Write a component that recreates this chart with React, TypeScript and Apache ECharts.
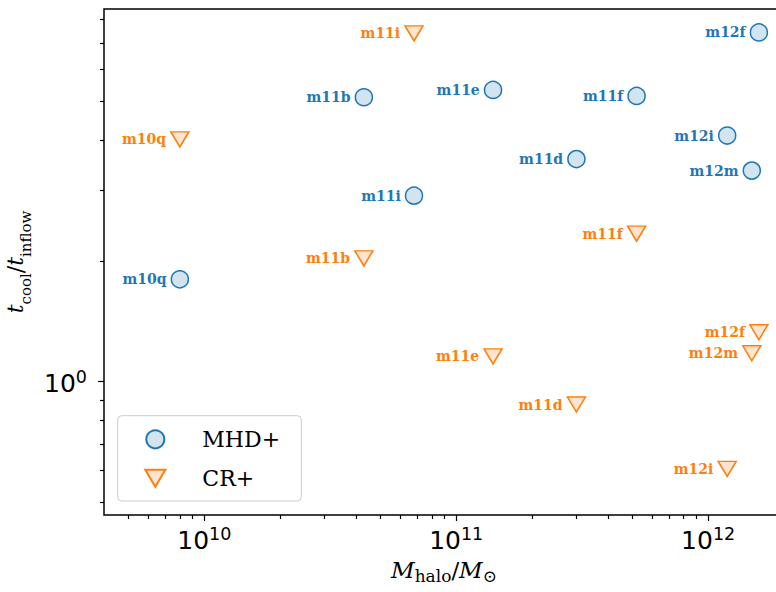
import React, { useEffect, useRef } from "react";
import * as echarts from "echarts";

// Halo names and masses (M_sun), shared by both physics runs
const haloNames = ["m10q", "m11b", "m11i", "m11e", "m11d", "m11f", "m12i", "m12m", "m12f"];
const haloMass = [8.0e9, 4.3e10, 6.8e10, 1.4e11, 3.0e11, 5.2e11, 1.19e12, 1.49e12, 1.59e12];

// t_cool / t_inflow for each run
const mhdRatio = [1.8, 5.12, 2.91, 5.34, 3.59, 5.16, 4.11, 3.36, 7.43];
const crRatio = [4.02, 2.03, 7.39, 1.156, 0.877, 2.34, 0.606, 1.177, 1.328];

// Tick positions
const xMajorTicks = [1e10, 1e11, 1e12];
const xMinorTicks = [
  5e9, 6e9, 7e9, 8e9, 9e9,
  2e10, 3e10, 4e10, 5e10, 6e10, 7e10, 8e10, 9e10,
  2e11, 3e11, 4e11, 5e11, 6e11, 7e11, 8e11, 9e11,
];
const yMajorTicks = [1];
const yMinorTicks = [0.5, 0.6, 0.7, 0.8, 0.9, 2, 3, 4, 5, 6, 7, 8];

const BLUE = "#1f77b4";
const BLUE_FILL = "#d2e4f0";
const ORANGE = "#ff7f0e";
const ORANGE_FILL = "#ffe5cf";
const TRIANGLE_DOWN = "path://M0,0L20,0L10,17Z";

const SERIF = "DejaVu Serif";

const powLabel = (v: number) => `{b|10}{s|${Math.round(Math.log10(v))}}`;
const powRich = {
  b: { fontFamily: "DejaVu Sans", fontSize: 25, lineHeight: 28, verticalAlign: "bottom", color: "#000" },
  s: { fontFamily: "DejaVu Sans", fontSize: 17.5, lineHeight: 17, verticalAlign: "top", color: "#000" },
};

// Math-style axis titles: italic symbols with upright subscripts
const mathRich = (main: number, sub: number, drop: number) => ({
  mi: { fontFamily: SERIF, fontStyle: "italic", fontSize: main, lineHeight: main + 2, verticalAlign: "top", color: "#000" },
  rm: { fontFamily: SERIF, fontSize: main, lineHeight: main + 2, verticalAlign: "top", color: "#000" },
  sub: { fontFamily: SERIF, fontSize: sub, lineHeight: sub, padding: [drop, 0, 0, 0], verticalAlign: "top", color: "#000" },
});

const X_MIN = 4e9;
const X_MAX = 2e12;
const Y_MIN = 0.465;
const Y_MAX = 8.5;

const tickStyle = { color: "#000", width: 1.2 };

export default function App() {
  const ref = useRef<HTMLDivElement>(null);

  useEffect(() => {
    if (!ref.current) return;
    const chart = echarts.init(ref.current, null, { renderer: "svg" });

    const pointLabel = (color: string) => ({
      show: true,
      position: "left",
      distance: 4,
      formatter: "{b}",
      color,
      fontFamily: SERIF,
      fontWeight: "bold",
      fontSize: 14,
    });

    chart.setOption({
      animation: false,
      backgroundColor: "#fff",
      grid: {
        left: 104,
        top: 9,
        width: 680,
        height: 506,
        outerBoundsMode: "none",
        containLabel: false,
        show: true,
        borderColor: "#000",
        borderWidth: 1.5,
        backgroundColor: "transparent",
      },
      xAxis: [
        {
          type: "log",
          logBase: 10,
          min: X_MIN,
          max: X_MAX,
          axisLine: { show: false },
          splitLine: { show: false },
          axisTick: { customValues: xMajorTicks, length: 6, lineStyle: tickStyle },
          axisLabel: { customValues: xMajorTicks, formatter: powLabel, rich: powRich, margin: 10 },
          name: "{mi|M}{sub|halo}{rm|/}{mi|M}{sub|⊙}",
          nameLocation: "middle",
          nameGap: 43,
          nameTextStyle: { rich: mathRich(23, 17, 9) },
        },
        {
          type: "log",
          logBase: 10,
          min: X_MIN,
          max: X_MAX,
          position: "bottom",
          axisLine: { show: false },
          splitLine: { show: false },
          axisTick: { customValues: xMinorTicks, length: 4, lineStyle: tickStyle },
          axisLabel: { show: false },
        },
      ],
      yAxis: [
        {
          type: "log",
          logBase: 10,
          min: Y_MIN,
          max: Y_MAX,
          position: "left",
          axisLine: { show: false },
          splitLine: { show: false },
          axisTick: { customValues: yMajorTicks, length: 6, lineStyle: tickStyle },
          axisLabel: { customValues: yMajorTicks, formatter: powLabel, rich: powRich, margin: 17 },
          name: "{mi|t}{sub|cool}{rm|/}{mi|t}{sub|inflow}",
          nameLocation: "middle",
          nameRotate: 90,
          nameGap: 57,
          nameTextStyle: { rich: mathRich(22, 15, 14) },
        },
        {
          type: "log",
          logBase: 10,
          min: Y_MIN,
          max: Y_MAX,
          position: "left",
          offset: 0,
          axisLine: { show: false },
          splitLine: { show: false },
          axisTick: { customValues: yMinorTicks, length: 4, lineStyle: tickStyle },
          axisLabel: { show: false },
        },
      ],
      legend: {
        orient: "vertical",
        left: 117.7,
        top: 415.7,
        padding: [11.6, 13, 10.7, 26.6],
        itemWidth: 20,
        itemHeight: 18,
        itemGap: 15,
        selectedMode: false,
        backgroundColor: "rgba(255,255,255,0.8)",
        borderColor: "#cccccc",
        borderWidth: 1,
        borderRadius: 4,
        textStyle: {
          fontFamily: SERIF,
          fontSize: 22,
          lineHeight: 24,
          color: "#000",
          width: 86,
          padding: [0, 0, 0, 32],
        },
        data: [
          { name: "MHD+", icon: "circle" },
          { name: "CR+", icon: TRIANGLE_DOWN },
        ],
      },
      series: [
        {
          name: "MHD+",
          type: "scatter",
          xAxisIndex: 0,
          yAxisIndex: 0,
          symbol: "circle",
          symbolSize: 17,
          itemStyle: { color: BLUE_FILL, borderColor: BLUE, borderWidth: 1.5, opacity: 1 },
          label: pointLabel(BLUE),
          emphasis: { disabled: true },
          data: haloMass.map((m, i) => ({ name: haloNames[i], value: [m, mhdRatio[i]] })),
        },
        {
          name: "CR+",
          type: "scatter",
          xAxisIndex: 0,
          yAxisIndex: 0,
          symbol: TRIANGLE_DOWN,
          symbolSize: [18, 15],
          itemStyle: { color: ORANGE_FILL, borderColor: ORANGE, borderWidth: 1.5, opacity: 1 },
          label: pointLabel(ORANGE),
          emphasis: { disabled: true },
          data: haloMass.map((m, i) => ({ name: haloNames[i], value: [m, crRatio[i]] })),
        },
      ],
    });

    return () => chart.dispose();
  }, []);

  return (
    <div
      ref={ref}
      style={{ position: "fixed", left: 0, top: 0, width: 776, height: 592 }}
    />
  );
}
